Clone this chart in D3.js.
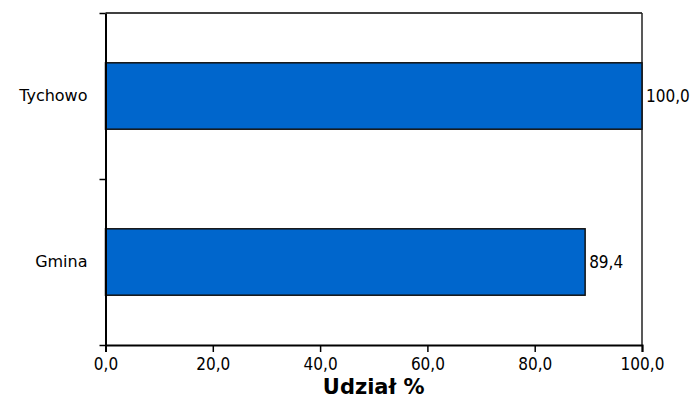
<!DOCTYPE html>
<html>
<head>
<meta charset="utf-8">
<script src="https://cdn.jsdelivr.net/npm/d3@7"></script>
<style>
  body { margin: 0; background: #fff; }
  text { font-family: "DejaVu Sans Condensed", "DejaVu Sans", sans-serif; font-stretch: condensed; fill: #000; }
  text.cat, text.title { font-family: "DejaVu Sans", sans-serif; font-stretch: normal; }
</style>
</head>
<body>
<script>
var categories = ['Tychowo', 'Gmina'];
var values = [100.0, 89.4];
var xTicks = [0, 20, 40, 60, 80, 100];
var axisTitle = 'Udział %';

var width = 692, height = 412;
var plotLeft = 105.5, plotRight = 642, plotTop = 13, plotBottom = 345;

var svg = d3.select('body').append('svg')
  .attr('width', width)
  .attr('height', height);

var x = d3.scaleLinear().domain([0, 100]).range([plotLeft, plotRight]);
var y = d3.scaleBand().domain(categories).range([plotTop, plotBottom])
  .paddingInner(0.6).paddingOuter(0.3);
// boundaries between categories for the y ticks
var yEdge = d3.scaleLinear().domain([0, categories.length]).range([plotTop, plotBottom]);

// frame top and right
svg.append('line').attr('x1', plotLeft).attr('x2', plotRight).attr('y1', plotTop).attr('y2', plotTop)
  .attr('stroke', '#000').attr('stroke-width', 1.5);
svg.append('line').attr('x1', plotRight).attr('x2', plotRight).attr('y1', plotTop).attr('y2', plotBottom)
  .attr('stroke', '#222').attr('stroke-width', 1.5);

// bars
svg.selectAll('rect.bar')
  .data(values)
  .enter().append('rect')
  .attr('class', 'bar')
  .attr('x', x(0))
  .attr('y', function(d, i) { return y(categories[i]); })
  .attr('width', function(d) { return x(d) - x(0); })
  .attr('height', y.bandwidth())
  .attr('fill', '#0066CC')
  .attr('stroke', '#111')
  .attr('stroke-width', 1.5);

// value labels
svg.selectAll('text.val')
  .data(values)
  .enter().append('text')
  .attr('class', 'val')
  .attr('x', function(d) { return x(d) + 4; })
  .attr('y', function(d, i) { return y(categories[i]) + y.bandwidth() / 2; })
  .attr('dy', '0.36em')
  .style('font-size', '17px')
  .text(function(d) { return d.toFixed(1).replace('.', ','); });

// x axis
var xAxis = svg.append('g')
  .attr('transform', 'translate(0,' + plotBottom + ')')
  .call(d3.axisBottom(x).tickValues(xTicks).tickSize(7).tickPadding(6)
    .tickFormat(function(d) { return d.toFixed(1).replace('.', ','); }));
xAxis.select('.domain').attr('stroke', '#000').attr('stroke-width', 2);
xAxis.selectAll('.tick line').attr('stroke', '#000').attr('stroke-width', 1.5);
xAxis.selectAll('.tick text').style('font-size', '17px')
  .style('font-family', '"DejaVu Sans Condensed", "DejaVu Sans", sans-serif');

// y axis (ticks at category boundaries)
var yAxis = svg.append('g')
  .attr('transform', 'translate(' + plotLeft + ',0)')
  .call(d3.axisLeft(yEdge).tickValues(d3.range(categories.length + 1)).tickSize(6)
    .tickSizeOuter(0).tickFormat(''));
yAxis.select('.domain').attr('stroke', '#000').attr('stroke-width', 2);
yAxis.selectAll('.tick line').attr('stroke', '#000').attr('stroke-width', 1.5);

// category labels
svg.selectAll('text.cat')
  .data(categories)
  .enter().append('text')
  .attr('class', 'cat')
  .attr('x', plotLeft - 18)
  .attr('y', function(d) { return y(d) + y.bandwidth() / 2; })
  .attr('dy', '0.3em')
  .attr('text-anchor', 'end')
  .style('font-size', '16px')
  .text(function(d) { return d; });

// axis title
svg.append('text')
  .attr('class', 'title')
  .attr('x', (plotLeft + plotRight) / 2)
  .attr('y', 394)
  .attr('text-anchor', 'middle')
  .style('font-size', '21px')
  .style('font-weight', 'bold')
  .text(axisTitle);
</script>
</body>
</html>
